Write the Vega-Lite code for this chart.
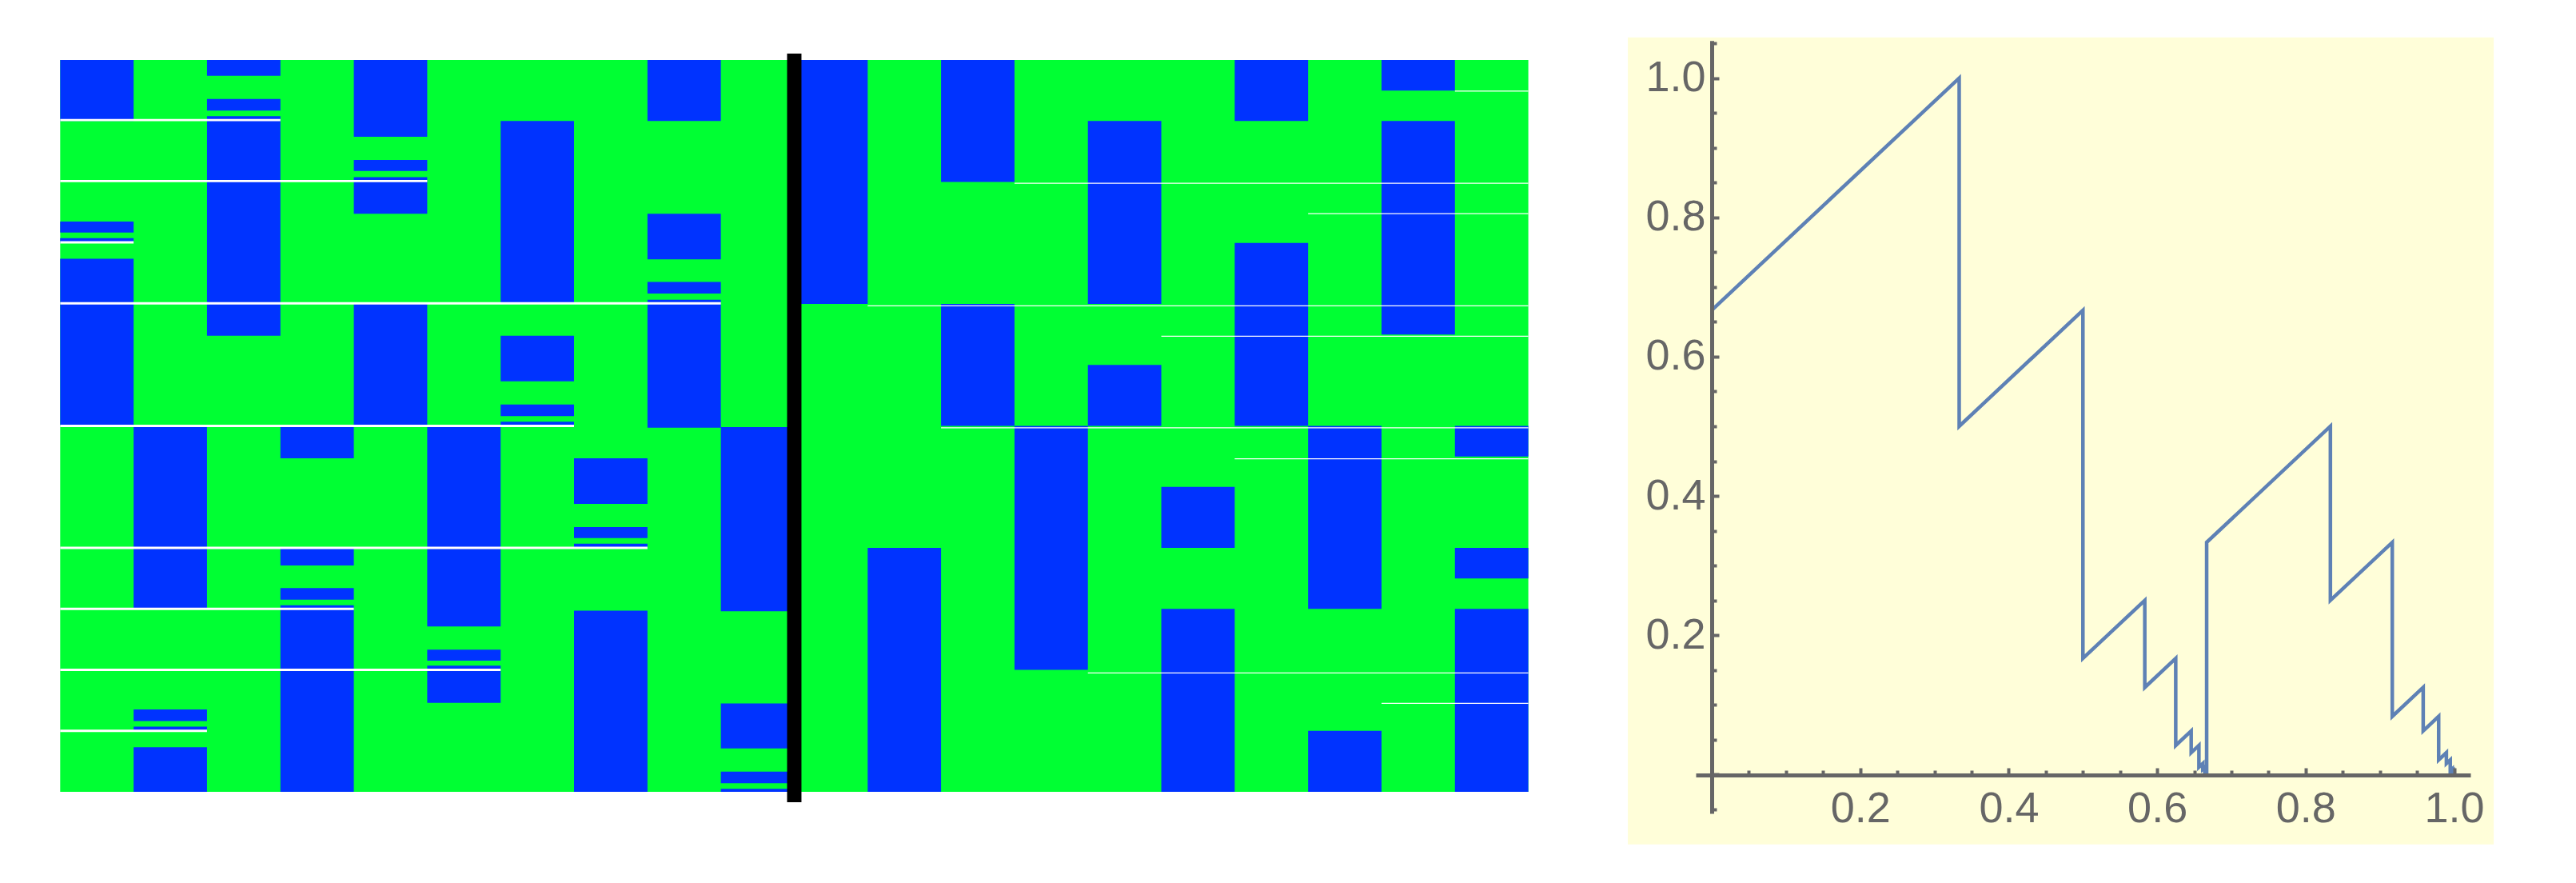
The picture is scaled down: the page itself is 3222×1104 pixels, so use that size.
{
  "$schema": "https://vega.github.io/schema/vega-lite/v6.json",
  "width": 3222,
  "height": 1104,
  "autosize": {"type": "none"},
  "padding": 0,
  "background": "white",
  "config": {"view": {"stroke": null}},
  "datasets": {
    "gridbg": [{"c0": 0, "c1": 20, "y0": 0, "y1": 12}],
    "blue": [
      {"c0": 0, "c1": 1, "y0": 0, "y1": 1}, {"c0": 0, "c1": 1, "y0": 2.65, "y1": 2.83}, {"c0": 0, "c1": 1, "y0": 2.92, "y1": 3.0}, {"c0": 0, "c1": 1, "y0": 3.26, "y1": 6},
      {"c0": 1, "c1": 2, "y0": 6, "y1": 9}, {"c0": 1, "c1": 2, "y0": 10.65, "y1": 10.84}, {"c0": 1, "c1": 2, "y0": 10.93, "y1": 11}, {"c0": 1, "c1": 2, "y0": 11.27, "y1": 12},
      {"c0": 2, "c1": 3, "y0": 0, "y1": 0.26}, {"c0": 2, "c1": 3, "y0": 0.64, "y1": 0.83}, {"c0": 2, "c1": 3, "y0": 0.92, "y1": 4.52},
      {"c0": 3, "c1": 4, "y0": 6, "y1": 6.53}, {"c0": 3, "c1": 4, "y0": 8, "y1": 8.29}, {"c0": 3, "c1": 4, "y0": 8.66, "y1": 8.85}, {"c0": 3, "c1": 4, "y0": 8.94, "y1": 12},
      {"c0": 4, "c1": 5, "y0": 0, "y1": 1.26}, {"c0": 4, "c1": 5, "y0": 1.64, "y1": 1.82}, {"c0": 4, "c1": 5, "y0": 1.92, "y1": 2.52}, {"c0": 4, "c1": 5, "y0": 4, "y1": 6},
      {"c0": 5, "c1": 6, "y0": 6, "y1": 9.29}, {"c0": 5, "c1": 6, "y0": 9.67, "y1": 9.85}, {"c0": 5, "c1": 6, "y0": 9.93, "y1": 10.54},
      {"c0": 6, "c1": 7, "y0": 1, "y1": 4}, {"c0": 6, "c1": 7, "y0": 4.52, "y1": 5.27}, {"c0": 6, "c1": 7, "y0": 5.65, "y1": 5.84}, {"c0": 6, "c1": 7, "y0": 5.93, "y1": 6},
      {"c0": 7, "c1": 8, "y0": 6.53, "y1": 7.28}, {"c0": 7, "c1": 8, "y0": 7.66, "y1": 7.84}, {"c0": 7, "c1": 8, "y0": 7.93, "y1": 8}, {"c0": 7, "c1": 8, "y0": 9.03, "y1": 12},
      {"c0": 8, "c1": 9, "y0": 0, "y1": 1}, {"c0": 8, "c1": 9, "y0": 2.52, "y1": 3.27}, {"c0": 8, "c1": 9, "y0": 3.64, "y1": 3.83}, {"c0": 8, "c1": 9, "y0": 3.93, "y1": 6.03},
      {"c0": 9, "c1": 10, "y0": 6.02, "y1": 9.04}, {"c0": 9, "c1": 10, "y0": 10.55, "y1": 11.29}, {"c0": 9, "c1": 10, "y0": 11.67, "y1": 11.86}, {"c0": 9, "c1": 10, "y0": 11.95, "y1": 12},
      {"c0": 10, "c1": 11, "y0": 0, "y1": 4},
      {"c0": 11, "c1": 12, "y0": 8, "y1": 12},
      {"c0": 12, "c1": 13, "y0": 0, "y1": 2}, {"c0": 12, "c1": 13, "y0": 4, "y1": 6},
      {"c0": 13, "c1": 14, "y0": 6, "y1": 10},
      {"c0": 14, "c1": 15, "y0": 1, "y1": 4}, {"c0": 14, "c1": 15, "y0": 5, "y1": 6},
      {"c0": 15, "c1": 16, "y0": 7, "y1": 8}, {"c0": 15, "c1": 16, "y0": 9, "y1": 12},
      {"c0": 16, "c1": 17, "y0": 0, "y1": 1}, {"c0": 16, "c1": 17, "y0": 3, "y1": 6},
      {"c0": 17, "c1": 18, "y0": 6, "y1": 9}, {"c0": 17, "c1": 18, "y0": 11, "y1": 12},
      {"c0": 18, "c1": 19, "y0": 0, "y1": 0.5}, {"c0": 18, "c1": 19, "y0": 1, "y1": 4.5},
      {"c0": 19, "c1": 20, "y0": 6, "y1": 6.5}, {"c0": 19, "c1": 20, "y0": 8, "y1": 8.5}, {"c0": 19, "c1": 20, "y0": 9, "y1": 12}
    ],
    "whiteL": [
      {"c0": 0, "c1": 3, "y": 0.985}, {"c0": 0, "c1": 5, "y": 1.985}, {"c0": 0, "c1": 1, "y": 2.99},
      {"c0": 0, "c1": 9, "y": 3.99}, {"c0": 0, "c1": 7, "y": 6.0}, {"c0": 0, "c1": 8, "y": 8.0},
      {"c0": 0, "c1": 4, "y": 9.0}, {"c0": 0, "c1": 6, "y": 10.0}, {"c0": 0, "c1": 2, "y": 11.0}
    ],
    "whiteR": [
      {"c0": 19, "c1": 20, "y": 0.51}, {"c0": 13, "c1": 20, "y": 2.02}, {"c0": 17, "c1": 20, "y": 2.52},
      {"c0": 11, "c1": 20, "y": 4.03}, {"c0": 15, "c1": 20, "y": 4.53}, {"c0": 12, "c1": 20, "y": 6.03},
      {"c0": 16, "c1": 20, "y": 6.54}, {"c0": 14, "c1": 20, "y": 10.05}, {"c0": 18, "c1": 20, "y": 10.55}
    ],
    "divider": [{"c": 10, "y0": -0.105, "y1": 12.17}],
    "panel": [{"x0": -0.113, "x1": 1.0533, "y0": -0.1005, "y1": 1.0586}],
    "curve": [
      {"i": 0, "x": 0, "y": 0.66667}, {"i": 1, "x": 0.33333, "y": 1}, {"i": 2, "x": 0.33333, "y": 0.5},
      {"i": 3, "x": 0.5, "y": 0.66667}, {"i": 4, "x": 0.5, "y": 0.16667}, {"i": 5, "x": 0.58333, "y": 0.25},
      {"i": 6, "x": 0.58333, "y": 0.125}, {"i": 7, "x": 0.625, "y": 0.16667}, {"i": 8, "x": 0.625, "y": 0.041667},
      {"i": 9, "x": 0.645833, "y": 0.0625}, {"i": 10, "x": 0.645833, "y": 0.03125}, {"i": 11, "x": 0.65625, "y": 0.041667},
      {"i": 12, "x": 0.65625, "y": 0.010417}, {"i": 13, "x": 0.661458, "y": 0.015625}, {"i": 14, "x": 0.661458, "y": 0.0078125},
      {"i": 15, "x": 0.664063, "y": 0.010417}, {"i": 16, "x": 0.664063, "y": 0.0026}, {"i": 17, "x": 0.665365, "y": 0.0039},
      {"i": 18, "x": 0.665365, "y": 0.00195}, {"i": 19, "x": 0.666016, "y": 0.0026}, {"i": 20, "x": 0.666016, "y": 0.00065},
      {"i": 21, "x": 0.666667, "y": 0.001}, {"i": 22, "x": 0.666667, "y": 0.33333}, {"i": 23, "x": 0.83333, "y": 0.5},
      {"i": 24, "x": 0.83333, "y": 0.25}, {"i": 25, "x": 0.91667, "y": 0.33333}, {"i": 26, "x": 0.91667, "y": 0.083333},
      {"i": 27, "x": 0.958333, "y": 0.125}, {"i": 28, "x": 0.958333, "y": 0.0625}, {"i": 29, "x": 0.979167, "y": 0.083333},
      {"i": 30, "x": 0.979167, "y": 0.020833}, {"i": 31, "x": 0.989583, "y": 0.03125}, {"i": 32, "x": 0.989583, "y": 0.015625},
      {"i": 33, "x": 0.994792, "y": 0.020833}, {"i": 34, "x": 0.994792, "y": 0.005208}, {"i": 35, "x": 0.997396, "y": 0.0078125},
      {"i": 36, "x": 0.997396, "y": 0.0039}, {"i": 37, "x": 0.998698, "y": 0.005208}, {"i": 38, "x": 0.998698, "y": 0.0013},
      {"i": 39, "x": 0.999349, "y": 0.00195}, {"i": 40, "x": 0.999349, "y": 0.0005}, {"i": 41, "x": 1.0, "y": -0.004}
    ]
  },
  "layer": [
    {
      "layer": [
        {
          "data": {"name": "gridbg"},
          "mark": {"type": "rect", "color": "#00FF33"},
          "encoding": {
            "x": {"field": "c0", "type": "quantitative", "scale": {"domain": [0, 20], "range": [75.3, 1911.6], "nice": false, "zero": false}, "axis": null},
            "x2": {"field": "c1"},
            "y": {"field": "y0", "type": "quantitative", "scale": {"domain": [0, 12], "range": [75, 990], "nice": false, "zero": false}, "axis": null},
            "y2": {"field": "y1"}
          }
        },
        {
          "data": {"name": "blue"},
          "mark": {"type": "rect", "color": "#0033FF"},
          "encoding": {
            "x": {"field": "c0", "type": "quantitative", "axis": null},
            "x2": {"field": "c1"},
            "y": {"field": "y0", "type": "quantitative", "axis": null},
            "y2": {"field": "y1"}
          }
        },
        {
          "data": {"name": "whiteL"},
          "mark": {"type": "rule", "color": "white", "strokeWidth": 2.8, "strokeCap": "butt"},
          "encoding": {
            "x": {"field": "c0", "type": "quantitative", "axis": null},
            "x2": {"field": "c1"},
            "y": {"field": "y", "type": "quantitative", "axis": null}
          }
        },
        {
          "data": {"name": "whiteR"},
          "mark": {"type": "rule", "color": "white", "strokeWidth": 1.3, "strokeCap": "butt"},
          "encoding": {
            "x": {"field": "c0", "type": "quantitative", "axis": null},
            "x2": {"field": "c1"},
            "y": {"field": "y", "type": "quantitative", "axis": null}
          }
        },
        {
          "data": {"name": "divider"},
          "mark": {"type": "rule", "color": "black", "strokeWidth": 18, "strokeCap": "butt"},
          "encoding": {
            "x": {"field": "c", "type": "quantitative", "axis": null},
            "y": {"field": "y0", "type": "quantitative", "axis": null},
            "y2": {"field": "y1"}
          }
        }
      ]
    },
    {
      "layer": [
        {
          "data": {"name": "panel"},
          "mark": {"type": "rect", "color": "#FFFED9"},
          "encoding": {
            "x": {"field": "x0", "type": "quantitative",
              "scale": {"domain": [-0.0215, 1.022], "range": [2121, 3090], "nice": false, "zero": false},
              "axis": {"orient": "bottom", "offset": -135, "values": [0.2, 0.4, 0.6, 0.8, 1.0], "format": ".1f",
                "domain": false, "ticks": false, "grid": false, "labels": true, "title": null,
                "labelFont": "Liberation Sans", "labelFontSize": 54, "labelColor": "#666666", "labelPadding": 15,
                "labelFlush": false, "labelOverlap": false, "labelBound": false, "zindex": 1}},
            "x2": {"field": "x1"},
            "y": {"field": "y0", "type": "quantitative",
              "scale": {"domain": [-0.056, 1.054], "range": [1017, 50.7], "nice": false, "zero": false},
              "axis": {"orient": "left", "offset": -2141, "values": [0.2, 0.4, 0.6, 0.8, 1.0], "format": ".1f",
                "domain": false, "ticks": false, "grid": false, "labels": true, "title": null,
                "labelFont": "Liberation Sans", "labelFontSize": 54, "labelColor": "#666666", "labelPadding": 8,
                "labelFlush": false, "labelOverlap": false, "labelBound": false, "zindex": 1}},
            "y2": {"field": "y1"}
          }
        },
        {
          "data": {"name": "curve"},
          "mark": {"type": "line", "color": "#5E81B5", "strokeWidth": 4.5, "strokeJoin": "miter", "clip": false},
          "encoding": {
            "x": {"field": "x", "type": "quantitative",
              "axis": {"orient": "bottom", "offset": -135,
                "values": [0, 0.05, 0.1, 0.15, 0.2, 0.25, 0.3, 0.35, 0.4, 0.45, 0.5, 0.55, 0.6, 0.65, 0.7, 0.75, 0.8, 0.85, 0.9, 0.95, 1.0],
                "domain": true, "domainColor": "#666666", "domainWidth": 5,
                "ticks": true, "tickColor": "#666666", "tickWidth": 4,
                "tickSize": {"condition": {"test": "abs(datum.value*5 - round(datum.value*5)) < 0.001", "value": -9}, "value": -6},
                "labels": false, "grid": false, "title": null, "zindex": 1}},
            "y": {"field": "y", "type": "quantitative",
              "axis": {"orient": "left", "offset": -2141,
                "values": [-0.05, 0, 0.05, 0.1, 0.15, 0.2, 0.25, 0.3, 0.35, 0.4, 0.45, 0.5, 0.55, 0.6, 0.65, 0.7, 0.75, 0.8, 0.85, 0.9, 0.95, 1.0, 1.05],
                "domain": true, "domainColor": "#666666", "domainWidth": 5,
                "ticks": true, "tickColor": "#666666", "tickWidth": 4,
                "tickSize": {"condition": {"test": "abs(datum.value*5 - round(datum.value*5)) < 0.001", "value": -9}, "value": -6},
                "labels": false, "grid": false, "title": null, "zindex": 1}},
            "order": {"field": "i", "type": "quantitative"}
          }
        }
      ],
      "resolve": {"axis": {"x": "independent", "y": "independent"}}
    }
  ],
  "resolve": {"scale": {"x": "independent", "y": "independent"}}
}
